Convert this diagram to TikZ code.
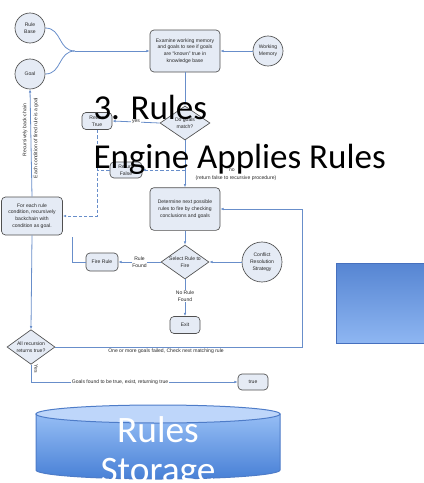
\documentclass[tikz,border=0pt]{standalone}
\usepackage{fontspec}
\setmainfont{Liberation Sans}
\newfontfamily\calibfont{Carlito}
\usetikzlibrary{shapes.geometric,arrows.meta}

\definecolor{flowblue}{RGB}{104,142,202}
\definecolor{boxfill}{RGB}{229,235,245}
\definecolor{boxline}{RGB}{80,80,80}
\definecolor{txtgray}{RGB}{40,40,40}
\definecolor{blocktop}{RGB}{86,133,210}
\definecolor{blockbot}{RGB}{142,182,242}
\definecolor{blockline}{RGB}{70,112,190}
\definecolor{cyllid}{RGB}{190,214,250}
\definecolor{cyltop}{RGB}{150,190,245}
\definecolor{cylbot}{RGB}{72,128,214}
\definecolor{cylline}{RGB}{78,124,200}

\tikzset{every picture/.style={line width=0.75pt}}
\tikzset{
  tinytext/.style={font=\fontsize{3.8}{5.1}\selectfont, text=txtgray, align=center, inner sep=0.5pt},
  chartbox/.style={tinytext, draw=boxline, fill=boxfill, rounded corners=3pt, line width=0.5pt},
  memcircle/.style={tinytext, circle, draw=boxline, fill=boxfill, line width=0.5pt},
  decision/.style={diamond, draw=boxline, fill=boxfill, line width=0.5pt, inner sep=0pt},
  diamtext/.style={tinytext},
  flow/.style={draw=flowblue, line width=0.6pt, -{Latex[length=2.5pt,width=2pt]}},
  plainflow/.style={draw=flowblue, line width=0.6pt},
  backflow/.style={flow, dashed, dash pattern=on 2.5pt off 1.5pt},
  onlabel/.style={tinytext, fill=white},
  bigtext/.style={font=\calibfont\fontsize{26.25}{31}\selectfont, inner sep=0pt},
}

\begin{document}
\begin{tikzpicture}[x=0.75pt,y=0.75pt,yscale=-1,xscale=1]
	\useasboundingbox (0,0) rectangle (424,483);

	%Circles
	\node [memcircle, minimum size=22.5pt] (rulebase) at (30,28) {Rule\\Base};
	\node [memcircle, minimum size=22.5pt] (goal) at (30,74) {Goal};
	\node [memcircle, minimum size=22.5pt] (workmem) at (268,51) {Working\\Memory};
	\node [memcircle, minimum size=30pt] (conflict) at (262,262) {Conflict\\Resolution\\Strategy};
	\coordinate (merge) at (75,51);

	%Rounded Rects
	\node [chartbox, minimum width=52.5pt, minimum height=31.5pt] (examine) at (185,51) {Examine working memory\\and goals to see if goals\\are ``known'' true in\\knowledge base};
	\node [chartbox, minimum width=22.5pt, minimum height=12.75pt] (rettrue) at (97,121) {Return\\True};
	\node [chartbox, minimum width=24pt, minimum height=12pt] (retfalse) at (126,170) {Return\\False};
	\node [chartbox, minimum width=52.5pt, minimum height=32pt] (determine) at (185,209) {Determine next possible\\rules to fire by checking\\conclusions and goals};
	\node [chartbox, minimum width=45.75pt, minimum height=28.5pt] (foreach) at (32,216) {For each rule\\condition, recursively\\backchain with\\condition as goal.};
	\node [chartbox, minimum width=24pt, minimum height=13.5pt] (firerule) at (102,262) {Fire Rule};
	\node [chartbox, minimum width=22.5pt, minimum height=12.75pt] (exitbox) at (185,325) {Exit};
	\node [chartbox, minimum width=22.5pt, minimum height=12pt] (truebox) at (253,382) {true};

	%Diamonds
	\node [decision, minimum width=37.5pt, minimum height=25.5pt, label={[diamtext]center:Do goals\\match?}] (match) at (185,123) {};
	\node [decision, minimum width=36pt, minimum height=25.5pt, label={[diamtext]center:Select Rule to\\Fire}] (select) at (185,262) {};
	\node [decision, minimum width=36pt, minimum height=26pt, label={[diamtext]center:All recursion\\returns true?}] (allrec) at (31,347) {};

	\coordinate (retbranch) at (185,170);
	\coordinate (fireup) at (72,237);
	\coordinate (loopdown) at (302,347);

	%Straight Lines
	\draw [plainflow] (rulebase.east) .. controls (62,28) and (58,51) .. (merge);
	\draw [plainflow] (goal.east) .. controls (62,74) and (58,51) .. (merge);
	\draw [flow] (merge) -- (examine.west);
	\draw [flow] (workmem.west) -- (examine.east);
	\draw [flow] (examine.south) -- (match.north);
	\draw [flow] (match.west) -- (rettrue.east) node [onlabel, midway] {yes};
	\draw [flow] (match.south) -- (determine.north);
	\draw [backflow] (retbranch) -- (retfalse.east);
	\draw [plainflow, dashed, dash pattern=on 2.5pt off 1.5pt] (retfalse.west) -- (retfalse.west -| rettrue.south);
	\draw [backflow] (rettrue.south) |- (foreach.east);
	\draw [flow] (foreach.north) -- (goal.south);
	\draw [flow] (foreach.south) -- (allrec.north);
	\draw [flow] (determine.south) -- (select.north);
	\draw [flow] (conflict.west) -- (select.east);
	\draw [flow] (select.west) -- (firerule.east) node [onlabel, midway] {Rule\\Found};
	\draw [flow] (select.south) -- (exitbox.north) node [onlabel, pos=0.45] {No Rule\\Found};
	\draw [plainflow] (firerule.west) -| (fireup);
	\draw [flow] (allrec.east) -- (loopdown) |- (determine.east);
	\draw [flow] (allrec.south) |- (truebox.west);

	% Text Node
	\node [tinytext, anchor=west] (nolabel) at (228,170) {no};
	\node [tinytext] (falsenote) at (236,178) {(return false to recursive procedure)};
	\node [tinytext, rotate=90] (backchain) at (25,130) {Recursively back-chain};
	\node [tinytext, rotate=90] (eachcond) at (36,138) {Each condition of fired rule is a goal};
	\node [tinytext, rotate=-90] (yeslabel) at (36,369) {Yes};
	\node [tinytext] (failnote) at (166,351) {One or more goals failed, Check next matching rule};
	\node [onlabel] (truenote) at (120,382) {Goals found to be true, exist, returning true};

	%Shape: Rectangle
	\draw [draw=blockline, line width=0.75pt, top color=blocktop, bottom color=blockbot] (336,263) -- (428,263) -- (428,343) -- (336,343) -- cycle;

	%Shape: Can
	\draw [draw=cylline, line width=0.75pt, top color=cyltop, bottom color=cylbot] (36,414) -- (36,470) arc [start angle=180, end angle=0, x radius=122, y radius=9] -- (280,414) -- cycle;
	\draw [draw=cylline, line width=0.75pt, fill=cyllid] (158,414) ellipse [x radius=122, y radius=9];
	\node [font=\calibfont\fontsize{28}{30}\selectfont, text=white, align=center, inner sep=0pt, anchor=base] (storage) at (158,482) {Rules\\Storage};

	% Text Node
	\node [bigtext, anchor=base west] (titleone) at (93,119) {3. Rules};
	\node [bigtext, anchor=base west] (titletwo) at (93,168) {Engine Applies Rules};

\end{tikzpicture}
\end{document}
